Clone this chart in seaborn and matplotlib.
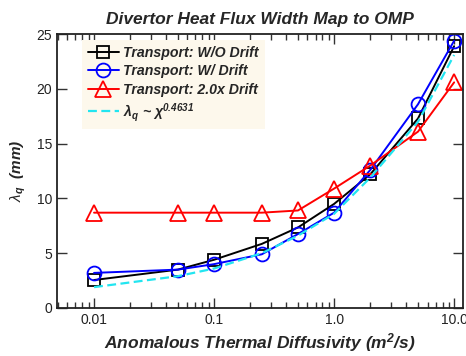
import matplotlib
matplotlib.use("Agg")
import matplotlib.pyplot as plt
import seaborn as sns
import numpy as np
from matplotlib.ticker import FixedLocator, FixedFormatter, LogLocator, NullFormatter

chi = [0.01, 0.05, 0.1, 0.25, 0.5, 1.0, 2.0, 5.0, 10.0]
wo_drift = [2.55, 3.5, 4.4, 5.85, 7.35, 9.5, 12.2, 17.3, 23.9]
w_drift = [3.2, 3.5, 4.0, 4.9, 6.75, 8.7, 12.6, 18.6, 24.4]
drift2x = [8.7, 8.7, 8.7, 8.7, 8.9, 10.9, 13.0, 16.1, 20.6]
fit = [1.9, 2.9, 3.6, 5.0, 6.6, 8.6, 11.9, 17.0, 23.1]
xticks = [0.01, 0.1, 1.0, 10.0]
xticklabels = ["0.01", "0.1", "1.0", "10.0"]
yticks = [0, 5, 10, 15, 20, 25]

sns.set_style("ticks")
plt.rcParams['font.family'] = ['Liberation Sans', 'DejaVu Sans']
plt.rcParams['mathtext.fontset'] = 'custom'
plt.rcParams['mathtext.rm'] = 'Liberation Sans'
plt.rcParams['mathtext.it'] = 'Liberation Sans:italic'
plt.rcParams['mathtext.bf'] = 'Liberation Sans:bold:italic'

fig = plt.figure(figsize=(4.66, 3.56), dpi=100)
ax = fig.add_axes([0.122, 0.135, 0.872, 0.769])

common = dict(markerfacecolor='none', markeredgewidth=1.3, linewidth=1.4)
sns.lineplot(x=chi, y=wo_drift, ax=ax, color='black', marker='s', markersize=8,
             markeredgecolor='black', label='Transport: W/O Drift', **common)
sns.lineplot(x=chi, y=w_drift, ax=ax, color='blue', marker='o', markersize=10,
             markeredgecolor='blue', label='Transport: W/ Drift', **common)
sns.lineplot(x=chi, y=drift2x, ax=ax, color='red', marker='^', markersize=11,
             markeredgecolor='red', label='Transport: 2.0x Drift', **common)
sns.lineplot(x=chi, y=fit, ax=ax, color='#22e5f0', linestyle='--', linewidth=1.6,
             label=r'$\mathbf{\lambda_{q}}$ ~ $\mathbf{\chi^{0.4631}}$')
ax.lines[-1].set_dashes([4, 2])

ax.set_xscale('log')
ax.set_xlim(0.0049, 11.9)
ax.set_ylim(0, 25)
ax.xaxis.set_major_locator(FixedLocator(xticks))
ax.xaxis.set_major_formatter(FixedFormatter(xticklabels))
ax.xaxis.set_minor_locator(LogLocator(base=10, subs=np.arange(2, 10), numticks=20))
ax.xaxis.set_minor_formatter(NullFormatter())
ax.set_yticks(yticks)

ax.tick_params(axis='both', which='both', direction='in', top=True, right=True,
               labelsize=10, colors='#333333', labelcolor='#222222')
ax.tick_params(axis='both', which='major', length=7, width=1)
ax.tick_params(axis='both', which='minor', length=4, width=1)
for s in ax.spines.values():
    s.set_linewidth(1.3)
    s.set_color('#222222')

ax.set_title('Divertor Heat Flux Width Map to OMP', fontsize=12.5,
             fontweight='bold', fontstyle='italic', pad=7)
ax.set_xlabel(r'Anomalous Thermal Diffusivity (m$^\mathbf{2}$/s)', fontsize=12.5,
              fontweight='bold', fontstyle='italic', labelpad=3)
ax.set_ylabel(r'$\lambda_{\mathbf{q}}$  (mm)', fontsize=11,
              fontweight='bold', fontstyle='italic', labelpad=6)

leg = ax.legend(loc='upper left', bbox_to_anchor=(0.045, 1.003), frameon=True,
                prop={'weight': 'bold', 'style': 'italic', 'size': 10.2},
                handlelength=2.2, handletextpad=0.3, borderpad=0.4,
                labelspacing=0.3, fancybox=False)
leg.get_frame().set_facecolor('#fdf8ec')
leg.get_frame().set_edgecolor('none')
leg.get_frame().set_alpha(1)

fig.savefig('out.png', dpi=100)
